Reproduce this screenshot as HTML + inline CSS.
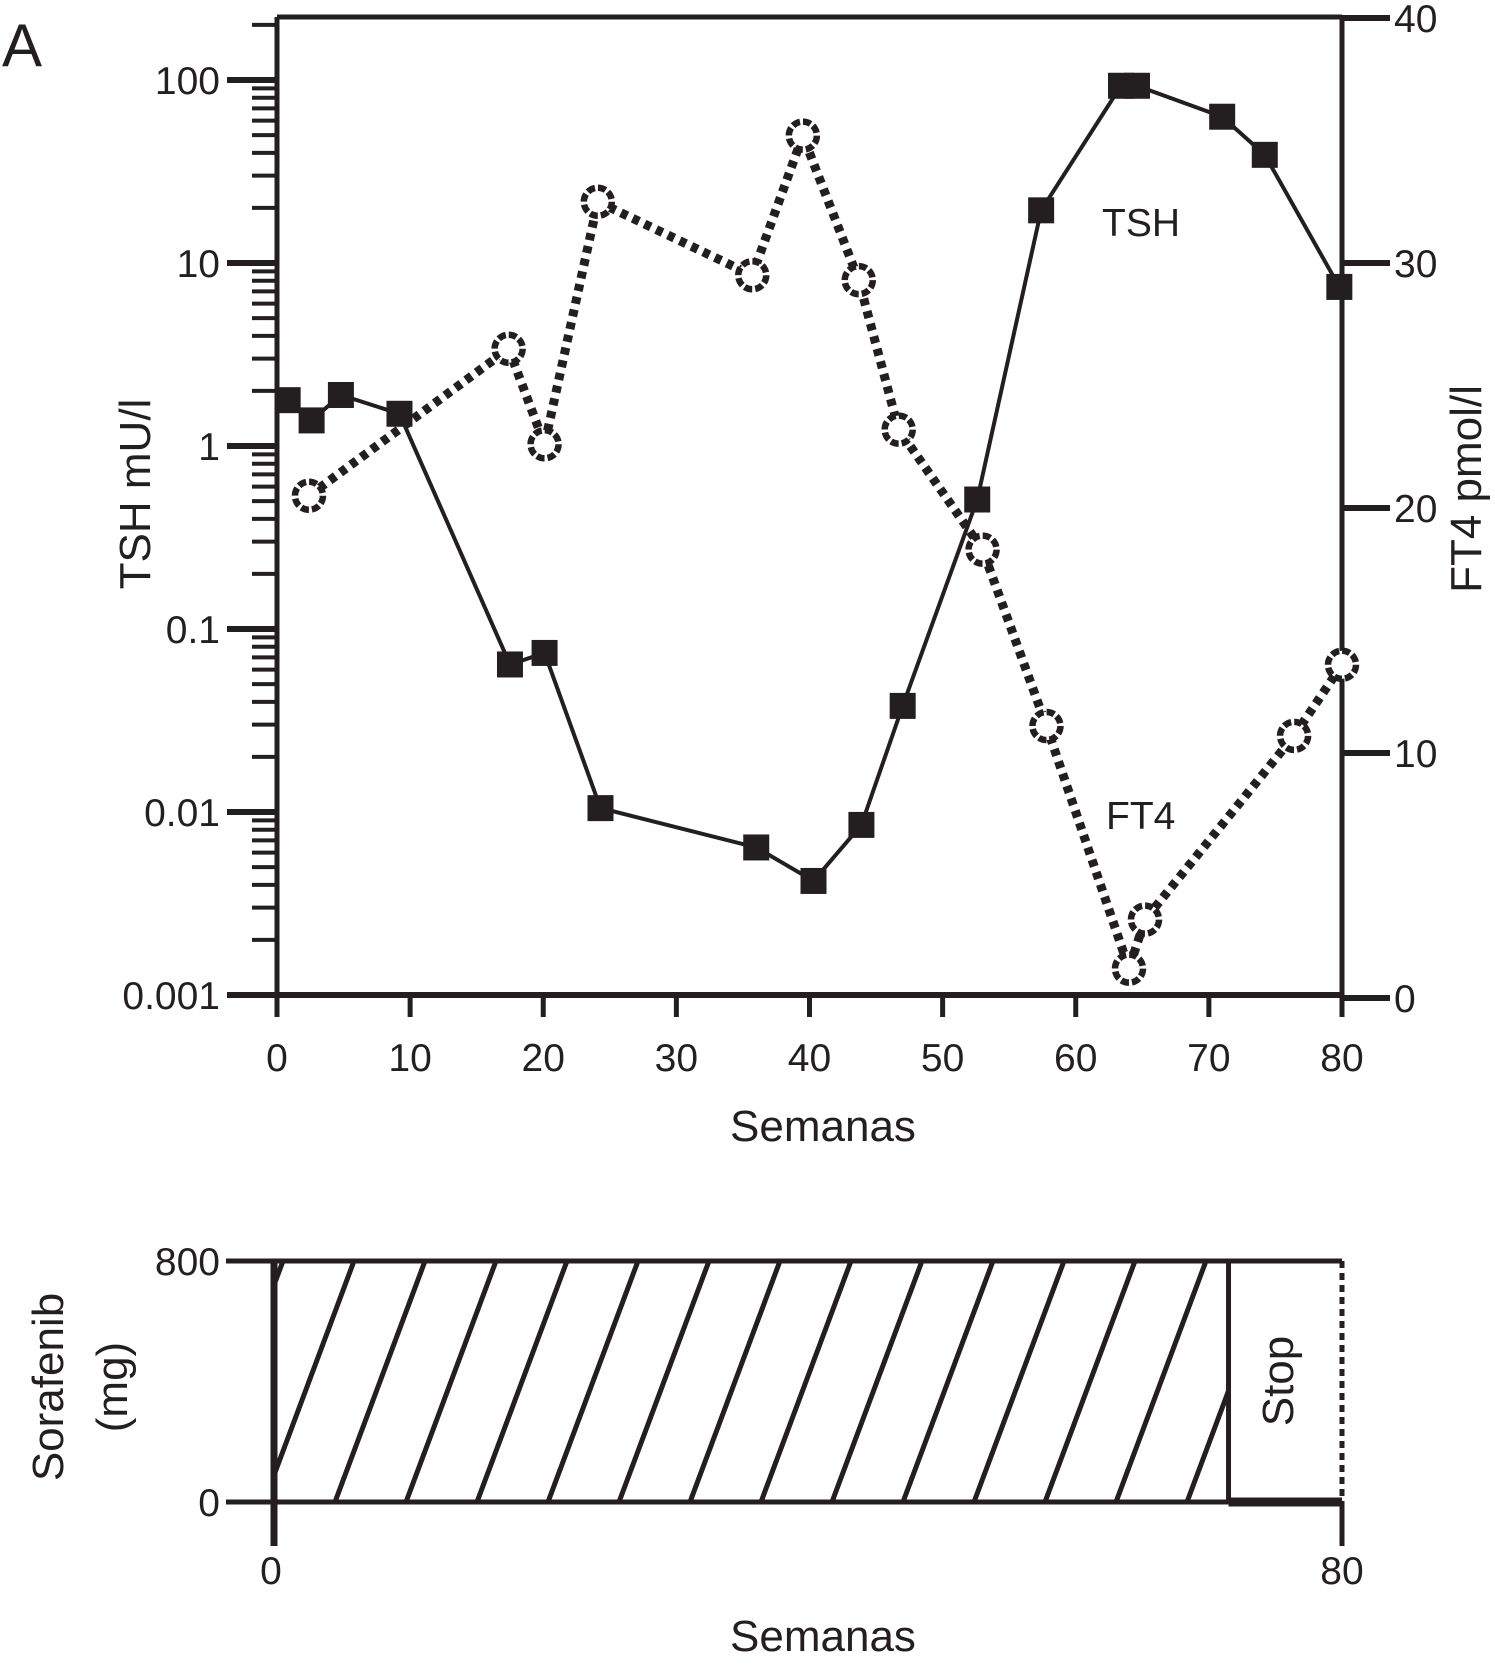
<!DOCTYPE html>
<html><head><meta charset="utf-8"><style>
html,body{margin:0;padding:0;background:#fff}
svg{display:block}
text{font-family:"Liberation Sans",Arial,sans-serif;fill:#231f20}
</style></head><body>
<svg id="chart" width="1495" height="1667" viewBox="0 0 1495 1667">
<defs>
<clipPath id="hclip"><rect x="276" y="1261" width="953" height="241"/></clipPath>
</defs>
<g id="g"></g>
</svg>
<script>
const tshWeeks=[0.8,2.6,4.8,9.2,17.5,20.1,24.3,36,40.3,43.9,47,52.6,57.4,63.4,64.6,71,74.2,79.8];
const tshValues=[1.78,1.38,1.9,1.5,0.064,0.074,0.0105,0.0064,0.0042,0.0085,0.038,0.51,19.4,93,93,63,39,7.4];
const ft4Weeks=[2.4,17.4,20.1,24.1,35.7,39.5,43.7,46.7,53,57.8,64,65.2,76.4,80];
const ft4Values=[20.5,26.5,22.6,32.5,29.5,35.2,29.3,23.2,18.3,11.1,1.2,3.2,10.7,13.6];
const xTicks=[0,10,20,30,40,50,60,70,80];
const leftTicks=[100,10,1,0.1,0.01,0.001];
const leftTickLabels=["100","10","1","0.1","0.01","0.001"];
const rightTicks=[40,30,20,10,0];
const doseWeeks=[0,71.5];
const doseValue=[800];

const NS='http://www.w3.org/2000/svg';
const g=document.getElementById('g');
function el(t,a,p){const e=document.createElementNS(NS,t);for(const k in a)e.setAttribute(k,a[k]);(p||g).appendChild(e);return e;}
const X0=277,X1=1342;
const x=w=>X0+(X1-X0)*w/80;
const yL=v=>80+(2-Math.log10(v))*183;
const yR=v=>998-v*24.5;
const YB=995;

let e;
e=el('line',{x1:X0,y1:17,x2:X1,y2:17,stroke:'#231f20','stroke-width':5});
e=el('line',{x1:X0,y1:17,x2:X0,y2:YB,stroke:'#231f20','stroke-width':5});
e=el('line',{x1:X1,y1:17,x2:X1,y2:YB,stroke:'#231f20','stroke-width':5});
e=el('line',{x1:X0,y1:YB,x2:X1,y2:YB,stroke:'#231f20','stroke-width':6});

leftTicks.forEach((v,i)=>{
  e=el('line',{x1:227,y1:yL(v),x2:X0,y2:yL(v),stroke:'#231f20','stroke-width':6});
  
  e=el('text',{x:220,y:yL(v)+14,'font-size':39,'text-anchor':'end'});e.textContent=leftTickLabels[i];
  
  if(i<leftTicks.length-1){for(let m=2;m<=9;m++){const yy=yL(v/10*m);
    e=el('line',{x1:252,y1:yy,x2:X0,y2:yy,stroke:'#231f20','stroke-width':4});
    }}
});
e=el('line',{x1:252,y1:yL(200),x2:X0,y2:yL(200),stroke:'#231f20','stroke-width':4});

rightTicks.forEach(v=>{
  e=el('line',{x1:X1,y1:yR(v),x2:1390,y2:yR(v),stroke:'#231f20','stroke-width':6});
  
  e=el('text',{x:1394,y:yR(v)+14,'font-size':39});e.textContent=v;
  
});
xTicks.forEach(v=>{
  e=el('line',{x1:x(v),y1:YB,x2:x(v),y2:YB+22,stroke:'#231f20','stroke-width':5});
  
  e=el('text',{x:x(v),y:1071,'font-size':39,'text-anchor':'middle'});e.textContent=v;
  
});

let pts=tshWeeks.map((w,i)=>x(w)+','+yL(tshValues[i])).join(' ');
e=el('polyline',{points:pts,fill:'none',stroke:'#231f20','stroke-width':4});

tshWeeks.forEach((w,i)=>{
  e=el('rect',{x:x(w)-13,y:yL(tshValues[i])-13,width:26,height:26,fill:'#231f20'});
  
});
pts=ft4Weeks.map((w,i)=>x(w)+','+yR(ft4Values[i])).join(' ');
e=el('polyline',{points:pts,fill:'none',stroke:'#231f20','stroke-width':9,'stroke-dasharray':'7 6'});

ft4Weeks.forEach((w,i)=>{
  e=el('circle',{cx:x(w),cy:yR(ft4Values[i]),r:14,fill:'#fff',stroke:'#231f20','stroke-width':6.5,'stroke-dasharray':'8 3'});
  
});

function txt(s,a,name){const t=el('text',a);t.textContent=s;return t;}
txt('A',{x:2,y:66,'font-size':60},'panel-label');
txt('TSH',{x:1102,y:236,'font-size':39},'tsh-series-label');
txt('FT4',{x:1106,y:829,'font-size':39},'ft4-series-label');
txt('TSH mU/l',{x:150,y:494,'font-size':44,'text-anchor':'middle',transform:'rotate(-90 150 494)'},'left-y-axis-title');
txt('FT4 pmol/l',{x:1481,y:489,'font-size':44,'text-anchor':'middle',transform:'rotate(-90 1481 489)'},'right-y-axis-title');
txt('Semanas',{x:823,y:1141,'font-size':44,'text-anchor':'middle'},'x-axis-title');

const bx0=274,bx1=1342;
const bx=w=>bx0+(bx1-bx0)*w/80;
const by=v=>1502-v*241/800;
const hatch=el('g',{'clip-path':'url(#hclip)'});

for(let k=-4;k<16;k++){const xb=335+k*71;
  const l=el('line',{x1:xb,y1:1502,x2:xb+90,y2:1261,stroke:'#231f20','stroke-width':5},hatch);
  }
e=el('line',{x1:bx(doseWeeks[0]),y1:by(doseValue[0]),x2:bx1,y2:by(doseValue[0]),stroke:'#231f20','stroke-width':5});

e=el('line',{x1:bx(doseWeeks[1]),y1:by(doseValue[0]),x2:bx(doseWeeks[1]),y2:1502,stroke:'#231f20','stroke-width':5});

e=el('line',{x1:bx1,y1:1261,x2:bx1,y2:1502,stroke:'#231f20','stroke-width':5,'stroke-dasharray':'7 5'});

e=el('line',{x1:226,y1:1502,x2:bx(doseWeeks[1]),y2:1502,stroke:'#231f20','stroke-width':5});

e=el('line',{x1:bx(doseWeeks[1]),y1:1502,x2:bx1,y2:1502,stroke:'#231f20','stroke-width':9});

e=el('line',{x1:bx0,y1:1261,x2:bx0,y2:1546,stroke:'#231f20','stroke-width':7});

e=el('line',{x1:226,y1:1261,x2:bx0,y2:1261,stroke:'#231f20','stroke-width':5});

e=el('line',{x1:bx1,y1:1502,x2:bx1,y2:1546,stroke:'#231f20','stroke-width':5});

txt('800',{x:220,y:1275,'font-size':39,'text-anchor':'end'},'bottom-y-tick-label');
txt('0',{x:220,y:1516,'font-size':39,'text-anchor':'end'},'bottom-y-tick-label');
txt('0',{x:271,y:1584,'font-size':39,'text-anchor':'middle'},'bottom-x-tick-label');
txt('80',{x:1342,y:1584,'font-size':39,'text-anchor':'middle'},'bottom-x-tick-label');
txt('Stop',{x:1293,y:1381,'font-size':44,'text-anchor':'middle',transform:'rotate(-90 1293 1381)'},'stop-label');
txt('Sorafenib',{x:63,y:1387,'font-size':44,'text-anchor':'middle',transform:'rotate(-90 63 1387)'},'bottom-y-axis-title');
txt('(mg)',{x:127,y:1387,'font-size':44,'text-anchor':'middle',transform:'rotate(-90 127 1387)'},'bottom-y-axis-unit');
txt('Semanas',{x:823,y:1651,'font-size':44,'text-anchor':'middle'},'bottom-x-axis-title');
</script>
</body></html>
